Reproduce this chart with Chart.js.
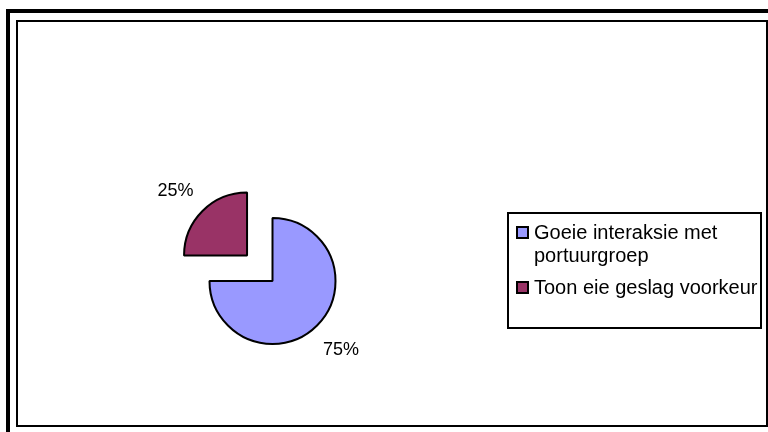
<!DOCTYPE html>
<html>
<head>
<meta charset="utf-8">
<title>Portuurgroep</title>
<script src="https://cdn.jsdelivr.net/npm/chart.js@4.4.1/dist/chart.umd.min.js"></script>
<style>
  html, body { margin: 0; padding: 0; background: #fff; }
  canvas { display: block; }
</style>
</head>
<body>
<canvas id="grafiek" width="768" height="432"></canvas>
<script>
// data
const kategorieë = [["Goeie interaksie met", "portuurgroep"], "Toon eie geslag voorkeur"];
const waardes = [75, 25];
const etikette = ["75%", "25%"];
const kleure = ["#9999FF", "#993366"];

const font = "'Liberation Sans', Arial, sans-serif";

// rame om die grafiek
const raamPlugin = {
    id: "raam",
    beforeDraw(chart) {
        const ctx = chart.ctx;
        ctx.save();
        ctx.fillStyle = "#fff";
        ctx.fillRect(0, 0, chart.width, chart.height);
        ctx.fillStyle = "#000";
        ctx.fillRect(6, 9, 4, chart.height - 9);
        ctx.fillRect(6, 9, chart.width - 6, 4);
        ctx.strokeStyle = "#000";
        ctx.lineWidth = 2;
        ctx.strokeRect(17, 21, 750, 405);
        ctx.restore();
    }
};

// persentasie etikette buite die snye
const etiketPlugin = {
    id: "etikette",
    afterDatasetsDraw(chart) {
        const ctx = chart.ctx;
        const meta = chart.getDatasetMeta(0);
        ctx.save();
        ctx.fillStyle = "#000";
        ctx.font = "18px " + font;
        ctx.textAlign = "center";
        ctx.textBaseline = "middle";
        meta.data.forEach((arc, i) => {
            const hoek = (arc.startAngle + arc.endAngle) / 2;
            // chart.js skuif 'n sny met offset / 4
            const afstand = (arc.options.offset || 0) / 4 + arc.outerRadius + 34;
            const x = arc.x + Math.cos(hoek) * afstand;
            const y = arc.y + Math.sin(hoek) * afstand;
            ctx.fillText(etikette[i], x - (i === 1 ? 3 : 0), y + (i === 1 ? 4 : 0));
        });
        ctx.restore();
    }
};

// eie legende met raam
const legendePlugin = {
    id: "legende",
    afterDraw(chart) {
        const ctx = chart.ctx;
        ctx.save();
        ctx.strokeStyle = "#000";
        ctx.lineWidth = 2;
        ctx.strokeRect(508, 213, 253, 115);
        ctx.font = "20px " + font;
        ctx.textAlign = "left";
        ctx.textBaseline = "alphabetic";
        let y = 239;
        kategorieë.forEach((lbl, i) => {
            const lyne = Array.isArray(lbl) ? lbl : [lbl];
            ctx.fillStyle = kleure[i];
            ctx.fillRect(517, y - 12, 11, 11);
            ctx.strokeStyle = "#000";
            ctx.lineWidth = 2;
            ctx.strokeRect(517, y - 12, 11, 11);
            ctx.fillStyle = "#000";
            lyne.forEach((lyn, j) => {
                ctx.fillText(lyn, 534, y + j * 23);
            });
            y += lyne.length * 23 + 9;
        });
        ctx.restore();
    }
};

new Chart(document.getElementById("grafiek"), {
    type: "pie",
    data: {
        labels: kategorieë,
        datasets: [{
            data: waardes,
            backgroundColor: kleure,
            borderColor: "#000",
            borderWidth: 2,
            offset: [0, 144],
            radius: 63
        }]
    },
    options: {
        responsive: false,
        animation: false,
        devicePixelRatio: 1,
        layout: { padding: { left: 20, right: 243, top: 150, bottom: 20 } },
        plugins: {
            legend: { display: false },
            tooltip: { enabled: false }
        }
    },
    plugins: [raamPlugin, etiketPlugin, legendePlugin]
});
</script>
</body>
</html>
